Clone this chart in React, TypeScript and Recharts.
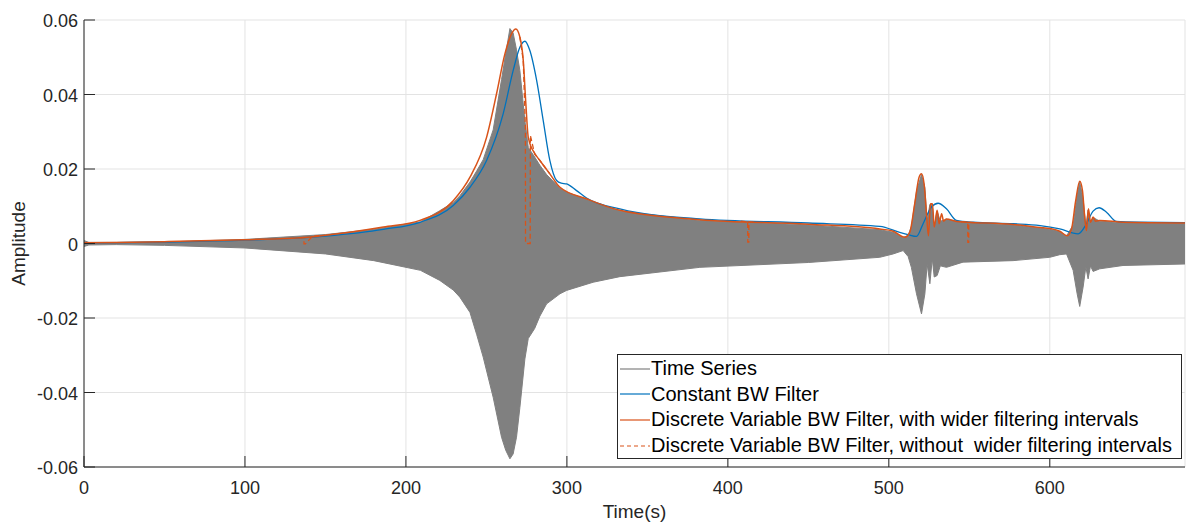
import { ComposedChart, Area, Line, XAxis, YAxis, CartesianGrid, Legend } from "recharts";

const FONT = '"Liberation Sans", Arial, Helvetica, sans-serif';
const AXIS_COLOR = "#262626";
const GRID_COLOR = "#e3e3e3";

const GRAY = "#808080";
const BLUE = "#0072BD";
const ORANGE = "#D95319";

const X_TICKS = [0, 100, 200, 300, 400, 500, 600];
const Y_TICKS = [-0.06, -0.04, -0.02, 0, 0.02, 0.04, 0.06];

// time series, drawn as its oscillation envelope (upper / lower)
const SERIES_TIME = [
  0, 3, 20, 50, 100, 150, 180, 209, 221, 229.4, 233.5, 239.8, 244, 248, 254.2, 259.4, 262, 264.6,
  266.6, 268.7, 270.8, 273.9, 276, 280, 283.2, 287.4, 295.7, 299.8, 316.3, 332.9, 382.6, 450, 494.4,
  502.7, 508.9, 512, 514, 517.2, 520.3, 522.4, 523.8, 525.5, 527, 528.2, 530, 532, 535.8, 546.1, 577.2,
  600, 606.2, 610.4, 614.5, 617, 618.6, 620.7, 622.4, 623.8, 625.3, 626.9, 631, 645.5, 684,
];
const SERIES_HIGH = [
  0.0008, 0.0003, 0.0003, 0.0004, 0.0011, 0.0024, 0.0038, 0.0058, 0.0088, 0.011, 0.0128, 0.0165,
  0.0195, 0.0225, 0.0305, 0.044, 0.051, 0.0577, 0.0565, 0.052, 0.0464, 0.033, 0.0258, 0.0232, 0.021,
  0.0185, 0.0148, 0.0138, 0.0112, 0.0087, 0.0062, 0.005, 0.0037, 0.003, 0.0016, 0.0022, 0.0045, 0.014,
  0.0185, 0.015, 0.006, 0.0105, 0.0105, 0.004, 0.0087, 0.006, 0.0065, 0.0057, 0.005, 0.0038, 0.0032,
  0.002, 0.005, 0.013, 0.0165, 0.012, 0.0045, 0.009, 0.0055, 0.007, 0.006, 0.0056, 0.0054,
];
const SERIES_LOW = [
  -0.0008, -0.0004, -0.0003, -0.0005, -0.0012, -0.0028, -0.0046, -0.0072, -0.0099, -0.0125, -0.0144,
  -0.0185, -0.0245, -0.0305, -0.0413, -0.052, -0.0555, -0.0578, -0.0565, -0.052, -0.044, -0.031,
  -0.0255, -0.0228, -0.0195, -0.0162, -0.0135, -0.0126, -0.0104, -0.0089, -0.0064, -0.0051, -0.0037,
  -0.0028, -0.0019, -0.0035, -0.0064, -0.0135, -0.0189, -0.0135, -0.0055, -0.0108, -0.004, -0.009,
  -0.0086, -0.006, -0.0064, -0.005, -0.0046, -0.0037, -0.003, -0.0028, -0.0072, -0.0135, -0.0169,
  -0.0117, -0.0063, -0.0095, -0.006, -0.0075, -0.0068, -0.0059, -0.0055,
];

// Constant BW Filter
const CONST_TIME = [
  0, 50, 100, 150, 186, 208.7, 229.4, 239.8, 250.1, 260.4, 266.6, 270.8, 273.9, 277, 281.2, 285.3,
  289.4, 293.6, 296.5, 299.8, 306, 312.2, 332.9, 382.6, 450, 494.4, 506.8, 512, 517.2, 521.3, 526.5,
  530.6, 535.8, 542, 552.4, 577.2, 594, 606.2, 617.6, 622.8, 626.9, 630.6, 635.2, 641.4, 655.9, 684,
];
const CONST_BW = [
  0.0001, 0.0004, 0.0009, 0.002, 0.0038, 0.0057, 0.0102, 0.0151, 0.0223, 0.0348, 0.0464, 0.0527,
  0.0543, 0.0518, 0.0438, 0.033, 0.0223, 0.0169, 0.0162, 0.016, 0.0142, 0.0122, 0.0093, 0.0066, 0.0055,
  0.0046, 0.003, 0.0024, 0.0019, 0.0053, 0.0098, 0.0108, 0.0093, 0.0062, 0.0057, 0.0053, 0.0048,
  0.0039, 0.0026, 0.0053, 0.0087, 0.0096, 0.0084, 0.0059, 0.0057, 0.0056,
];

// Discrete Variable BW Filter, with wider filtering intervals
const WIDE_TIME = [
  0, 20, 50, 100, 137, 165, 186, 208.7, 229.4, 239.8, 250.1, 256.3, 261.5, 265.6, 268.3, 270.8, 272.9,
  274.5, 276, 280.1, 283.2, 289.4, 295.7, 312.2, 332.9, 382.6, 450, 494.4, 502.7, 510, 513, 516.1,
  518.8, 520.3, 521.9, 523.4, 524.6, 525.9, 527.1, 528.2, 530, 531.3, 532.8, 534, 535.8, 542, 549,
  577.2, 594, 600, 606.2, 610.8, 613.5, 616.1, 618.6, 620.3, 621.7, 622.8, 624, 625.3, 626.9, 628.5,
  631, 645.5, 684,
];
const WIDE_BW = [
  0.0002, 0.0003, 0.0005, 0.001, 0.0016, 0.003, 0.0044, 0.0062, 0.0115, 0.0178, 0.0285, 0.0402, 0.0509,
  0.0563, 0.0576, 0.0554, 0.0491, 0.0375, 0.0285, 0.0241, 0.0223, 0.0187, 0.0151, 0.012, 0.0089,
  0.0064, 0.0052, 0.0039, 0.0033, 0.0017, 0.003, 0.0107, 0.0178, 0.0187, 0.016, 0.008, 0.0021, 0.0107,
  0.0107, 0.0044, 0.0089, 0.0053, 0.008, 0.006, 0.0066, 0.0059, 0.0057, 0.0051, 0.0043, 0.004, 0.0033,
  0.0021, 0.0039, 0.0115, 0.0167, 0.0142, 0.0071, 0.0035, 0.0093, 0.0057, 0.0071, 0.006, 0.0062,
  0.0057, 0.0055,
];

// Discrete Variable BW Filter, without wider filtering intervals
// (only where it leaves the solid curve; null splits the pieces)
const NARROW_TIME = [
  134, 136.6, 136.7, 137.6, 141.8, 146, 147,
  270.8, 272.9, 274.2, 274.3, 277.2, 277.3, 280, 283.2, 289.4, 290,
  408, 412.3, 412.4, 413, 413.1, 417, 418,
  545, 549, 549.1, 549.6, 549.7, 554,
];
const NARROW_BW = [
  0.0015, 0.0016, -0.0001, -0.0001, 0.0019, 0.0021, null,
  0.0554, 0.0491, 0.031, 0, 0, 0.029, 0.024, 0.0223, 0.0187, null,
  0.006, 0.0058, 0.0004, 0.0004, 0.0058, 0.0057, null,
  0.0058, 0.0057, 0.0003, 0.0003, 0.0057, 0.0056,
];

const LEGEND_ITEMS = [
  { name: "Time Series", color: GRAY, dash: undefined },
  { name: "Constant BW Filter", color: BLUE, dash: undefined },
  { name: "Discrete Variable BW Filter, with wider filtering intervals", color: ORANGE, dash: undefined },
  { name: "Discrete Variable BW Filter, without  wider filtering intervals", color: ORANGE, dash: "4 3" },
];

const seriesRows = SERIES_TIME.map((t, i) => ({ t, range: [SERIES_LOW[i], SERIES_HIGH[i]] }));
const constRows = CONST_TIME.map((t, i) => ({ t, v: CONST_BW[i] }));
const wideRows = WIDE_TIME.map((t, i) => ({ t, v: WIDE_BW[i] }));
const narrowRows = NARROW_TIME.map((t, i) => ({ t, v: NARROW_BW[i] }));

function formatY(v: number) {
  if (Math.abs(v) < 1e-9) return "0";
  return v.toFixed(2);
}

function BottomTick({ x, y, payload }: any) {
  return (
    <g>
      <line x1={x} y1={y} x2={x} y2={y - 11} stroke={AXIS_COLOR} />
      <text x={x} y={y + 27} textAnchor="middle" fill={AXIS_COLOR} fontSize={18} fontFamily={FONT}>
        {payload.value}
      </text>
    </g>
  );
}

function LeftTick({ x, y, payload }: any) {
  return (
    <g>
      <line x1={x} y1={y} x2={x + 11} y2={y} stroke={AXIS_COLOR} />
      <text x={x - 6} y={y + 7} textAnchor="end" fill={AXIS_COLOR} fontSize={18} fontFamily={FONT}>
        {formatY(payload.value)}
      </text>
    </g>
  );
}

function TopTick({ x, y }: any) {
  return <line x1={x} y1={y} x2={x} y2={y + 11} stroke={AXIS_COLOR} />;
}

function RightTick({ x, y }: any) {
  return <line x1={x} y1={y} x2={x - 11} y2={y} stroke={AXIS_COLOR} />;
}

function XTitle(props: any) {
  const vb = props.viewBox ?? { x: 84, y: 467, width: 1101, height: 58 };
  return (
    <text x={vb.x + vb.width / 2} y={vb.y + 51} textAnchor="middle" fill={AXIS_COLOR} fontSize={19} fontFamily={FONT}>
      Time(s)
    </text>
  );
}

function YTitle(props: any) {
  const vb = props.viewBox ?? { x: 0, y: 20, width: 84, height: 447 };
  const cx = vb.x + 25;
  const cy = vb.y + vb.height / 2;
  return (
    <text
      x={cx}
      y={cy}
      transform={`rotate(-90 ${cx} ${cy})`}
      textAnchor="middle"
      fill={AXIS_COLOR}
      fontSize={19}
      fontFamily={FONT}
    >
      Amplitude
    </text>
  );
}

function LegendBox() {
  return (
    <div
      style={{
        width: 565,
        height: 105,
        boxSizing: "border-box",
        border: `1px solid ${AXIS_COLOR}`,
        background: "#ffffff",
        paddingTop: 1,
        fontFamily: FONT,
        fontSize: 20,
        lineHeight: "25.6px",
        color: "#000000",
      }}
    >
      {LEGEND_ITEMS.map((item) => (
        <div key={item.name} style={{ display: "flex", alignItems: "center", height: 25.6 }}>
          <svg width={30} height={4} style={{ marginLeft: 2, marginRight: 1 }}>
            <line x1={0} y1={2} x2={30} y2={2} stroke={item.color} strokeWidth={1.2} strokeDasharray={item.dash} />
          </svg>
          <span style={{ whiteSpace: "pre" }}>{item.name}</span>
        </div>
      ))}
    </div>
  );
}

export default function App() {
  return (
    <div style={{ position: "absolute", left: 0, top: 0, background: "#ffffff" }}>
      <ComposedChart width={1186} height={525} margin={{ top: 20, right: 1, bottom: 0, left: 0 }}>
        <CartesianGrid stroke={GRID_COLOR} strokeWidth={1} />
        <XAxis
          dataKey="t"
          type="number"
          domain={[0, 684]}
          ticks={X_TICKS}
          interval={0}
          allowDataOverflow
          height={58}
          tickSize={0}
          tickMargin={0}
          tickLine={false}
          axisLine={{ stroke: AXIS_COLOR }}
          tick={BottomTick}
          label={<XTitle />}
        />
        <XAxis
          xAxisId="top"
          orientation="top"
          dataKey="t"
          type="number"
          domain={[0, 684]}
          ticks={X_TICKS}
          interval={0}
          allowDataOverflow
          height={0}
          tickSize={0}
          tickMargin={0}
          tickLine={false}
          axisLine={{ stroke: AXIS_COLOR }}
          tick={TopTick}
        />
        <YAxis
          type="number"
          domain={[-0.06, 0.06]}
          ticks={Y_TICKS}
          interval={0}
          allowDataOverflow
          width={84}
          tickSize={0}
          tickMargin={0}
          tickLine={false}
          axisLine={{ stroke: AXIS_COLOR }}
          tick={LeftTick}
          label={<YTitle />}
        />
        <YAxis
          yAxisId="right"
          orientation="right"
          type="number"
          domain={[-0.06, 0.06]}
          ticks={Y_TICKS}
          interval={0}
          allowDataOverflow
          width={0}
          tickSize={0}
          tickMargin={0}
          tickLine={false}
          axisLine={{ stroke: AXIS_COLOR }}
          tick={RightTick}
        />
        <Area
          data={seriesRows}
          dataKey="range"
          name="Time Series"
          type="linear"
          stroke={GRAY}
          strokeWidth={1}
          fill={GRAY}
          fillOpacity={1}
          dot={false}
          activeDot={false}
          isAnimationActive={false}
        />
        <Line
          data={constRows}
          dataKey="v"
          name="Constant BW Filter"
          type="monotone"
          stroke={BLUE}
          strokeWidth={1.3}
          dot={false}
          activeDot={false}
          isAnimationActive={false}
        />
        <Line
          data={wideRows}
          dataKey="v"
          name="Discrete Variable BW Filter, with wider filtering intervals"
          type="monotone"
          stroke={ORANGE}
          strokeWidth={1.5}
          dot={false}
          activeDot={false}
          isAnimationActive={false}
        />
        <Line
          data={narrowRows}
          dataKey="v"
          name="Discrete Variable BW Filter, without  wider filtering intervals"
          type="linear"
          stroke={ORANGE}
          strokeWidth={1.3}
          strokeDasharray="5 3"
          dot={false}
          activeDot={false}
          isAnimationActive={false}
        />
        <Legend
          layout="horizontal"
          verticalAlign="middle"
          align="center"
          content={<LegendBox />}
          wrapperStyle={{ left: 617, top: 354, width: 565, height: 105 }}
        />
      </ComposedChart>
    </div>
  );
}
